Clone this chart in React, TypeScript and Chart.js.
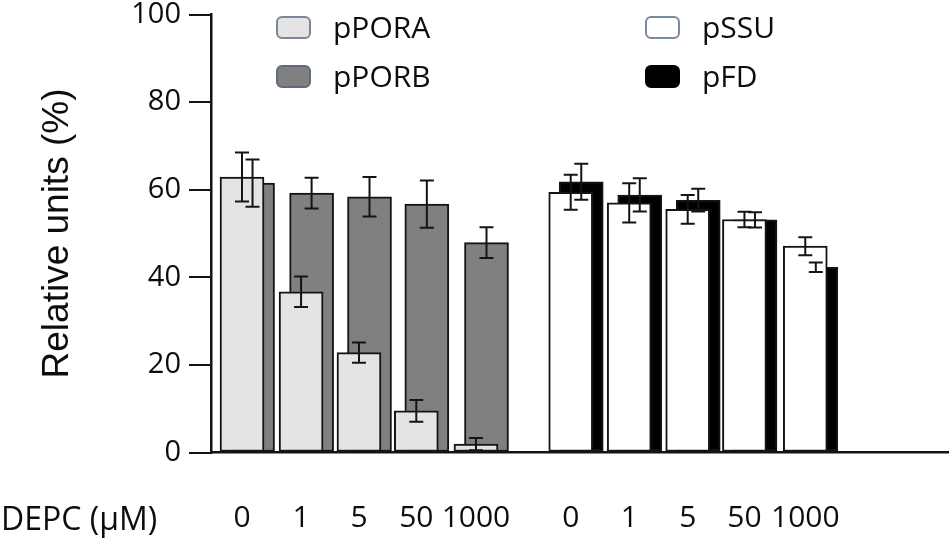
import React, { useEffect, useRef } from "react";
import { Chart, registerables } from "chart.js";

Chart.register(...registerables);

// ---- data ----
const doseLabels = ["0", "1", "5", "50", "1000"];
const leftPositions = [0, 1.01, 2.0, 2.98, 4.0];
const rightPositions = [5.62, 6.62, 7.62, 8.59, 9.63];
const backOffset = 0.18;

const pporaValues = [62.9, 36.7, 22.8, 9.5, 1.9];
const pporaErrors = [5.6, 3.5, 2.3, 2.5, 1.4];
const pporbValues = [61.5, 59.2, 58.4, 56.7, 47.9];
const pporbErrors = [5.4, 3.5, 4.5, 5.4, 3.5];
const pssuValues = [59.4, 57.0, 55.5, 53.2, 47.1];
const pssuErrors = [4.0, 4.5, 3.3, 1.75, 2.05];
const pfdValues = [61.8, 58.8, 57.6, 53.1, 42.3];
const pfdErrors = [4.1, 3.8, 2.6, 1.75, 1.1];

const yTicks = [0, 20, 40, 60, 80, 100];
const xAxisTitle = "DEPC (μM)";
const yAxisTitle = "Relative units (%)";

const tickPositions = [...leftPositions, ...rightPositions];
const tickLabels = [...doseLabels, ...doseLabels];

const makeSet = (
  label: string,
  xs: number[],
  vals: number[],
  errs: number[],
  fill: string,
  legendBorder: string
) => ({
  label,
  data: xs.map((x, i) => ({ x, y: vals[i] })),
  errors: errs,
  legendBorder,
  backgroundColor: fill,
  borderColor: "#141414",
  borderWidth: 2,
  borderSkipped: false,
  barThickness: 44,
  grouped: false,
});

const errorBarPlugin = {
  id: "errorBars",
  afterDatasetsDraw(chart: any) {
    const ctx = chart.ctx;
    const ys = chart.scales.y;
    chart.data.datasets.forEach((ds: any, di: number) => {
      const meta = chart.getDatasetMeta(di);
      meta.data.forEach((el: any, i: number) => {
        const v = ds.data[i].y;
        const e = ds.errors[i];
        const yt = ys.getPixelForValue(v + e);
        const yb = ys.getPixelForValue(v - e);
        const x = el.x;
        ctx.save();
        ctx.strokeStyle = "#141414";
        ctx.lineWidth = 2;
        ctx.beginPath();
        ctx.moveTo(x, yt);
        ctx.lineTo(x, yb);
        ctx.moveTo(x - 7, yt);
        ctx.lineTo(x + 7, yt);
        ctx.moveTo(x - 7, yb);
        ctx.lineTo(x + 7, yb);
        ctx.stroke();
        ctx.restore();
      });
    });
  },
};

const legendSlots = [
  { x: 277, y: 17 },
  { x: 277, y: 66 },
  { x: 646, y: 17 },
  { x: 646, y: 66 },
];

const legendPlugin = {
  id: "customLegend",
  afterDraw(chart: any) {
    const ctx = chart.ctx;
    chart.data.datasets.forEach((ds: any, i: number) => {
      const s = legendSlots[i];
      ctx.save();
      ctx.beginPath();
      ctx.roundRect(s.x, s.y, 33, 21, 5);
      ctx.fillStyle = ds.backgroundColor;
      ctx.fill();
      ctx.lineWidth = 2;
      ctx.strokeStyle = ds.legendBorder;
      ctx.stroke();
      ctx.fillStyle = "#0d0d0d";
      ctx.font = '30px "Open Sans"';
      ctx.textBaseline = "alphabetic";
      ctx.textAlign = "left";
      ctx.fillText(ds.label, s.x + 56, s.y + 20.5);
      ctx.restore();
    });
  },
};

const xTitlePlugin = {
  id: "xTitle",
  afterDraw(chart: any) {
    const ctx = chart.ctx;
    ctx.save();
    ctx.fillStyle = "#0d0d0d";
    ctx.font = '32px "Open Sans"';
    ctx.textBaseline = "alphabetic";
    ctx.textAlign = "left";
    ctx.fillText(xAxisTitle, 1, 530);
    ctx.restore();
  },
};

export default function App() {
  const canvasRef = useRef<HTMLCanvasElement | null>(null);

  useEffect(() => {
    if (!canvasRef.current) return;
    const datasets: any[] = [
      makeSet("pPORA", leftPositions, pporaValues, pporaErrors, "#e4e4e4", "#7b8796"),
      makeSet(
        "pPORB",
        leftPositions.map((x) => x + backOffset),
        pporbValues,
        pporbErrors,
        "#808080",
        "#5d6b7a"
      ),
      makeSet("pSSU", rightPositions, pssuValues, pssuErrors, "#ffffff", "#7a8aa0"),
      makeSet(
        "pFD",
        rightPositions.map((x) => x + backOffset),
        pfdValues,
        pfdErrors,
        "#000000",
        "#000000"
      ),
    ];

    const chart = new Chart(canvasRef.current, {
      type: "bar",
      data: { datasets },
      options: {
        animation: false,
        responsive: false,
        devicePixelRatio: 1,
        layout: { padding: { top: 14.5, right: 4, bottom: 0, left: 0 } },
        plugins: {
          legend: { display: false },
          tooltip: { enabled: false },
        },
        scales: {
          x: {
            type: "linear",
            min: -0.53,
            max: 12.07,
            offset: false,
            afterBuildTicks: (s: any) => {
              s.ticks = tickPositions.map((v) => ({ value: v }));
            },
            afterFit: (s: any) => {
              s.height = 92.5;
              s.paddingLeft = 0;
              s.paddingRight = 0;
            },
            grid: { display: false, drawTicks: false },
            border: { display: true, color: "#141414", width: 2.5 },
            ticks: {
              autoSkip: false,
              maxRotation: 0,
              minRotation: 0,
              padding: 48,
              color: "#0d0d0d",
              font: { family: "Open Sans", size: 30 },
              callback: (_v: any, i: number) => tickLabels[i],
            },
          },
          y: {
            type: "linear",
            min: 0,
            max: 100,
            afterBuildTicks: (s: any) => {
              s.ticks = yTicks.map((v) => ({ value: v }));
            },
            afterFit: (s: any) => {
              s.width = 211;
              s.paddingTop = 0;
              s.paddingBottom = 0;
            },
            grid: {
              display: true,
              drawOnChartArea: false,
              drawTicks: true,
              tickLength: 22,
              color: "#141414",
              lineWidth: 2,
            },
            border: { display: true, color: "#141414", width: 2.5 },
            ticks: {
              padding: 8,
              color: "#0d0d0d",
              font: { family: "Open Sans", size: 29 },
            },
            title: {
              display: true,
              text: yAxisTitle,
              color: "#0d0d0d",
              font: { family: "Liberation Sans", size: 37 },
              padding: { top: 36, bottom: 0 },
            },
          },
        },
      } as any,
      plugins: [errorBarPlugin, legendPlugin, xTitlePlugin],
    });

    return () => chart.destroy();
  }, []);

  return (
    <div
      style={{
        position: "fixed",
        left: 0,
        top: 0,
        width: 952,
        height: 545,
        background: "#ffffff",
      }}
    >
      <canvas ref={canvasRef} width={952} height={545} style={{ display: "block" }} />
    </div>
  );
}
